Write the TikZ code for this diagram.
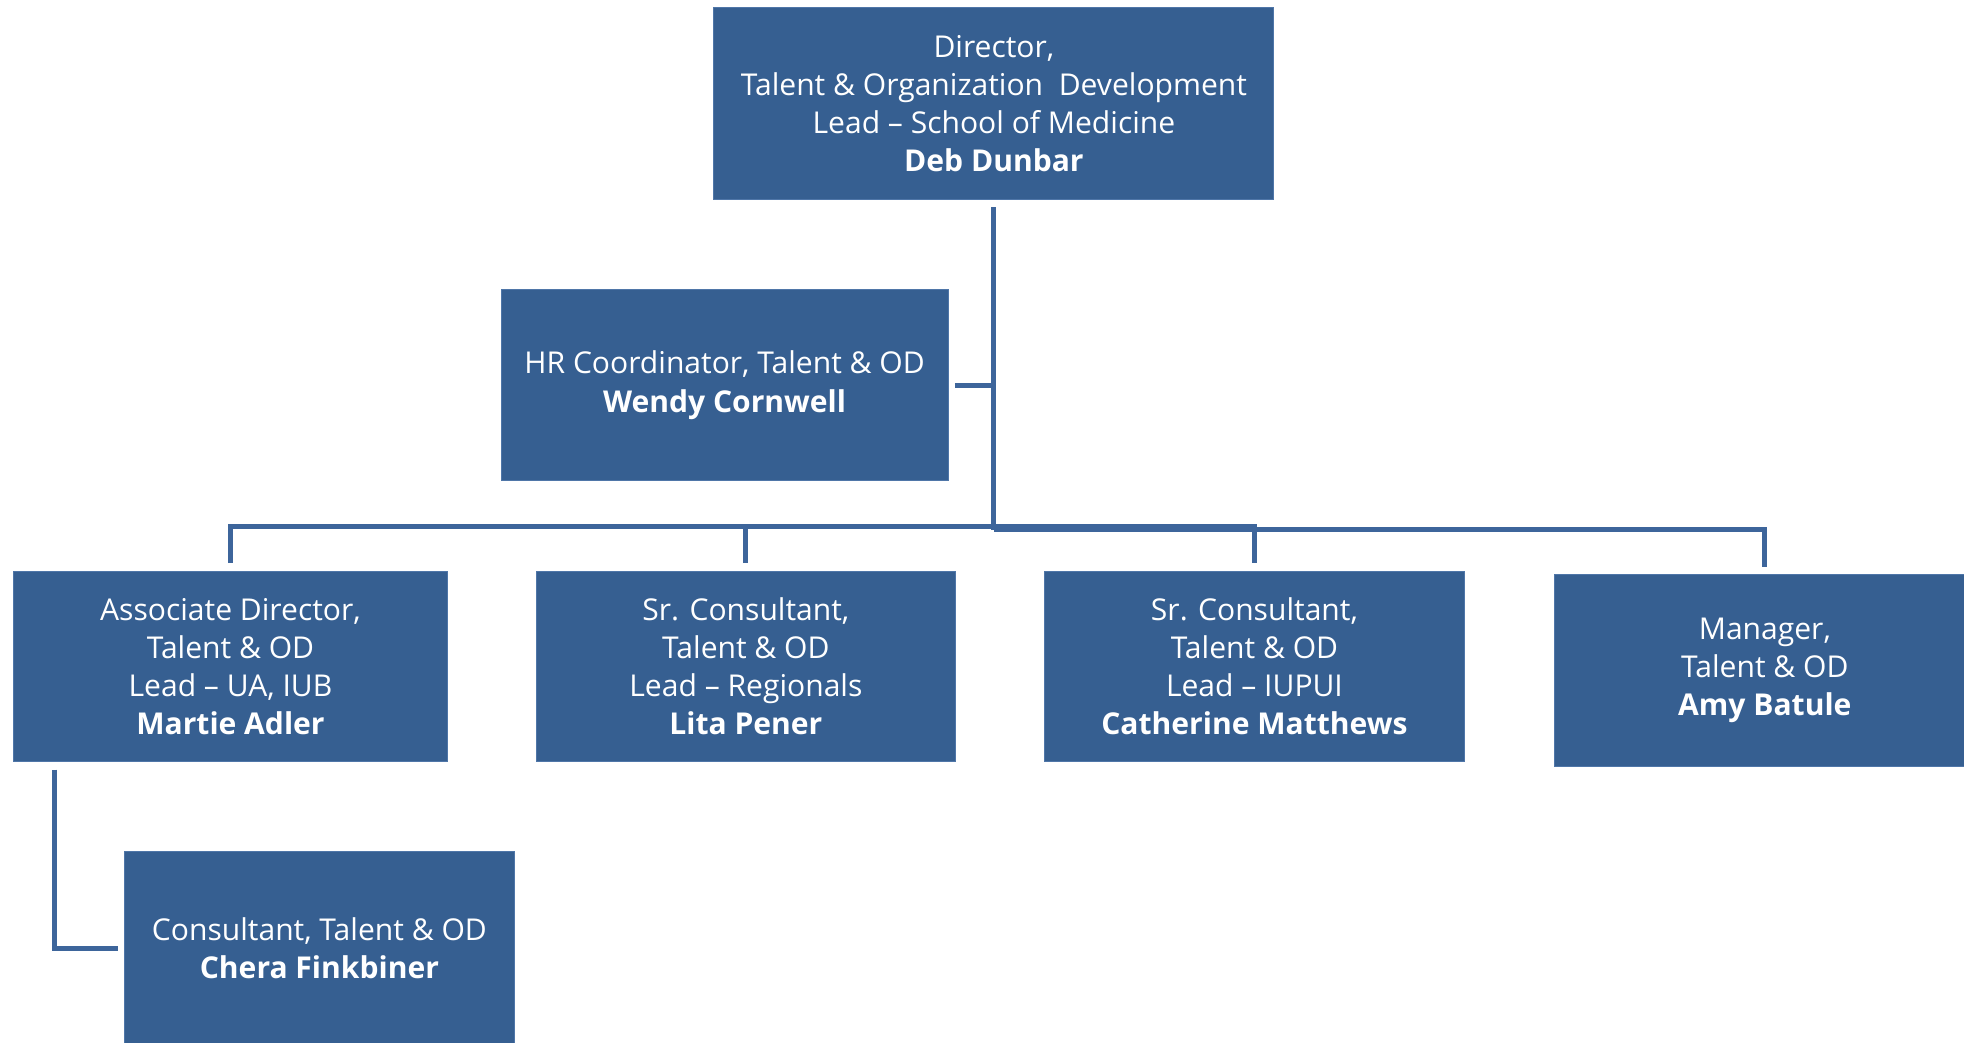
\documentclass[tikz,border=0pt]{standalone}
\usepackage{fontspec}
\setmainfont{Open Sans}
\definecolor{boxblue}{HTML}{365F91}
\definecolor{boxedge}{HTML}{4F76A8}
\definecolor{lineblue}{HTML}{3D659B}
\begin{document}
\begin{tikzpicture}[x=1pt,y=-1pt,
  box/.style={fill=boxblue, draw=boxedge, line width=0.8pt, text=white, align=center, inner sep=0pt,
    font=\fontsize{24}{30.4}\selectfont},
  conn/.style={draw=lineblue, line width=4pt}]
\useasboundingbox (0,0) rectangle (1568,832);
\clip (0,0) rectangle (1568,832);
\node[box, minimum width=447pt, minimum height=153pt] (dir) at (793.5,82.5)
  {Director,\\Talent \& Organization\ \ Development\\Lead -- School of Medicine\\\textbf{Deb Dunbar}};
\node[box, minimum width=357pt, minimum height=153pt] (hr) at (578.5,307.5)
  {HR Coordinator, Talent \& OD\\\textbf{Wendy Cornwell}};
\node[box, minimum width=346pt, minimum height=152pt] (m) at (184,532)
  {Associate Director,\\Talent \& OD\\Lead -- UA, IUB\\\textbf{Martie Adler}};
\node[box, minimum width=335pt, minimum height=152pt] (l) at (595.5,532)
  {Sr. Consultant,\\Talent \& OD\\Lead -- Regionals\\\textbf{Lita Pener}};
\node[box, minimum width=335pt, minimum height=152pt] (c) at (1001.5,532)
  {Sr. Consultant,\\Talent \& OD\\Lead -- IUPUI\\\textbf{Catherine Matthews}};
\node[box, minimum width=336pt, minimum height=153pt] (a) at (1409,535.5)
  {Manager,\\Talent \& OD\\\textbf{Amy Batule}};
\node[box, minimum width=312pt, minimum height=154pt] (ch) at (255,757)
  {Consultant, Talent \& OD\\\textbf{Chera Finkbiner}};
\path (dir.south) ++(0,6) coordinate (dtop);
\draw[conn] (dtop) -- (dtop |- 0,423);
\draw[conn] ([xshift=5pt]hr.east) -- (hr.east -| dtop);
\draw[conn] ([yshift=6pt]m.north) -- (m.north |- 0,420) -- (c.north |- 0,420) -- ([yshift=6pt]c.north);
\draw[conn] ([yshift=6pt]l.north) -- (l.north |- 0,420);
\draw[conn] (dtop |- 0,423) -- (a.north |- 0,423) -- ([yshift=6pt]a.north);
\draw[conn] (m.south west) ++(33,6) |- ([xshift=-4pt]ch.west);
\end{tikzpicture}
\end{document}
